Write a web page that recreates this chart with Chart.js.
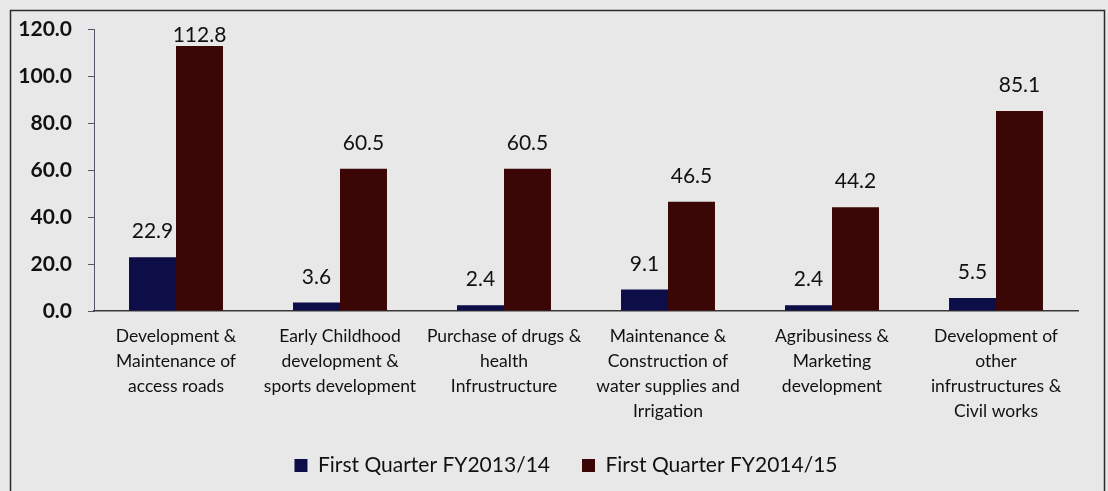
<!DOCTYPE html>
<html>
<head>
<meta charset="utf-8">
<script src="https://cdn.jsdelivr.net/npm/chart.js@4.4.1/dist/chart.umd.min.js"></script>
<style>
  html, body { margin: 0; padding: 0; background: #e8e8e8; }
  #wrap { width: 1108px; height: 491px; }
</style>
</head>
<body>
<div id="wrap"><canvas id="c" width="1108" height="491"></canvas></div>
<script>
// Spending by category, first quarter comparison
const categories = [
  ["Development &", "Maintenance of", "access roads"],
  ["Early Childhood", "development &", "sports development"],
  ["Purchase of drugs &", "health", "Infrustructure"],
  ["Maintenance &", "Construction of", "water supplies and", "Irrigation"],
  ["Agribusiness &", "Marketing", "development"],
  ["Development of", "other", "infrustructures &", "Civil works"]
];
const seriesNames = ["First Quarter FY2013/14", "First Quarter FY2014/15"];
const fy1314 = [22.9, 3.6, 2.4, 9.1, 2.4, 5.5];
const fy1415 = [112.8, 60.5, 60.5, 46.5, 44.2, 85.1];
const yTicks = [0, 20, 40, 60, 80, 100, 120];

const FONT = "Lato, 'Open Sans', sans-serif";

// Page background and frame
const framePlugin = {
  id: 'frame',
  beforeDraw(chart) {
    const ctx = chart.ctx;
    ctx.save();
    ctx.fillStyle = '#e8e8e8';
    ctx.fillRect(0, 0, chart.width, chart.height);
    ctx.strokeStyle = '#2a2a2a';
    ctx.lineWidth = 1.5;
    ctx.strokeRect(10.5, 10.5, chart.width - 14, chart.height + 10);
    ctx.restore();
  },
  // widen the label clip boxes so tick text can spill past the reserved axis space
  afterLayout(chart) {
    chart.scales.x.bottom += 20;
    chart.scales.y.left = 0;
  }
};

// Value labels above each bar
const valueLabels = {
  id: 'valueLabels',
  afterDatasetsDraw(chart) {
    const ctx = chart.ctx;
    const top = chart.chartArea.top;
    ctx.save();
    ctx.font = "21px " + FONT;
    ctx.fillStyle = '#111';
    ctx.textAlign = 'center';
    ctx.textBaseline = 'alphabetic';
    chart.data.datasets.forEach((ds, i) => {
      chart.getDatasetMeta(i).data.forEach((bar, j) => {
        let y = bar.y - 19;
        if (y < top + 13) y = top + 13;
        ctx.fillText(ds.data[j].toFixed(1), bar.x, y);
      });
    });
    ctx.restore();
  }
};

new Chart(document.getElementById('c'), {
  type: 'bar',
  data: {
    labels: categories,
    datasets: [
      { label: seriesNames[0], data: fy1314, backgroundColor: '#0d0d48', borderWidth: 0 },
      { label: seriesNames[1], data: fy1415, backgroundColor: '#3a0606', borderWidth: 0 }
    ]
  },
  options: {
    responsive: false,
    animation: false,
    devicePixelRatio: 1,
    layout: { padding: { left: 54, right: 30, top: 29, bottom: 5 } },
    datasets: { bar: { categoryPercentage: 0.573, barPercentage: 1.0 } },
    plugins: {
      tooltip: { enabled: false },
      legend: {
        position: 'bottom',
        labels: {
          font: { family: FONT, size: 21 },
          color: '#111',
          boxWidth: 13,
          boxHeight: 13,
          padding: 32
        }
      }
    },
    scales: {
      x: {
        grid: { display: false },
        border: { display: true, color: '#3a3a3a', width: 1.5 },
        ticks: {
          autoSkip: false,
          maxRotation: 0,
          minRotation: 0,
          padding: 5,
          color: '#111',
          font: { family: FONT, size: 17.5, lineHeight: 25 / 17.5 }
        },
        afterFit(s) { s.height = 112; }
      },
      y: {
        min: 0,
        max: 120,
        afterBuildTicks(s) { s.ticks = yTicks.map(v => ({ value: v })); },
        grid: { drawOnChartArea: false, tickLength: 6, color: '#556', lineWidth: 1 },
        border: { display: true, color: '#556', width: 1 },
        ticks: {
          padding: 16,
          color: '#111',
          font: { family: FONT, size: 21, weight: 'bold' },
          callback: v => Number(v).toFixed(1)
        },
        afterFit(s) { s.width = 40; }
      }
    }
  },
  plugins: [framePlugin, valueLabels]
});
</script>
</body>
</html>
